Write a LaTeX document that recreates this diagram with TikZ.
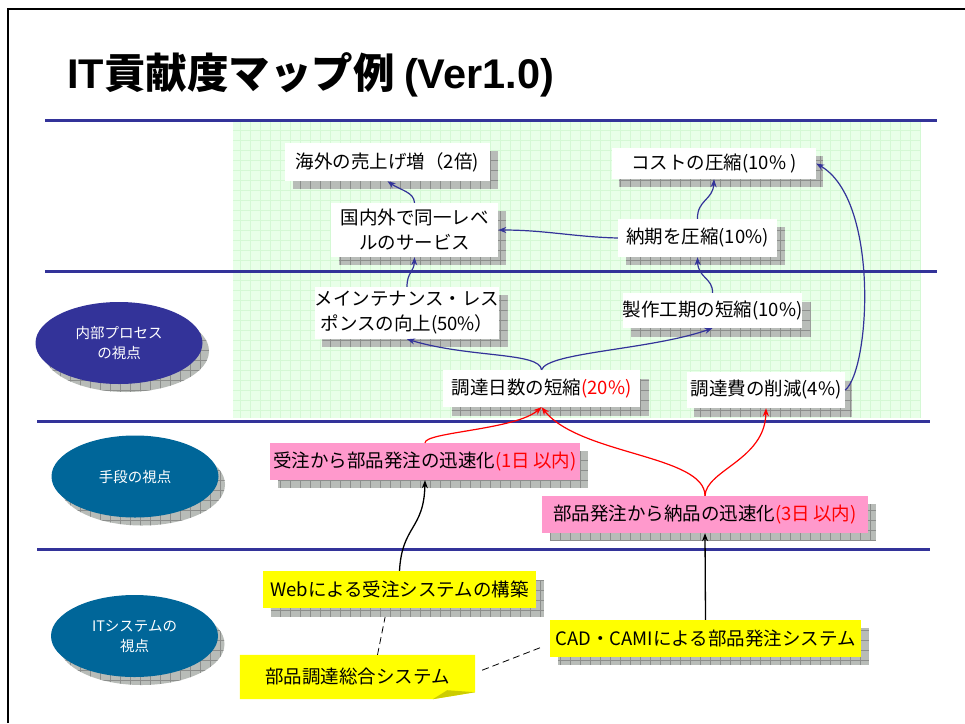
\documentclass[tikz,border=0pt]{standalone}
\usepackage{fontspec}
\setmainfont{Noto Sans CJK JP}
\newfontfamily\latfont{Liberation Sans}
\usetikzlibrary{arrows.meta,shapes.geometric,calc}
\definecolor{navycol}{RGB}{51,51,153}
\definecolor{ellcol}{RGB}{0,102,153}
\definecolor{pinkcol}{RGB}{255,153,204}
\definecolor{yelcol}{RGB}{255,255,0}
\definecolor{foldcol}{RGB}{204,204,0}
\definecolor{greenfill}{RGB}{232,255,232}
\definecolor{greenline}{RGB}{212,248,212}
\definecolor{shadowgray}{RGB}{184,188,184}
\definecolor{shadowline}{RGB}{140,142,140}
\pgfdeclarelayer{bg}\pgfdeclarelayer{lines}\pgfdeclarelayer{shad}
\pgfsetlayers{bg,lines,shad,main}
\newcommand\boxshadow[3]{%
  \begin{pgfonlayer}{shad}
    \fill[shadowgray] ([shift={(#2,#3)}]#1.south west) rectangle ([shift={(#2,#3)}]#1.north east);
    \begin{scope}
      \clip ([shift={(#2,#3)}]#1.south west) rectangle ([shift={(#2,#3)}]#1.north east);
      \draw[shadowline, line width=0.6pt] ([shift={(#2,#3)}]#1.south west) grid[step=10pt] ([shift={(#2,#3)}]#1.north east);
    \end{scope}
  \end{pgfonlayer}}
\newcommand\ellshadow[1]{%
  \begin{pgfonlayer}{shad}
    \fill[shadowgray] ([shift={(7,8)}]#1.center) ellipse [x radius=83pt, y radius=41pt];
    \begin{scope}
      \clip ([shift={(7,8)}]#1.center) ellipse [x radius=83pt, y radius=41pt];
      \draw[shadowline, line width=0.6pt] ([shift={(-90,60)}]#1.center) grid[step=10pt] ([shift={(100,-50)}]#1.center);
    \end{scope}
  \end{pgfonlayer}}
\tikzset{
  wbox/.style={fill=white, inner sep=0pt, align=center, font=\fontsize{18.5}{25}\selectfont},
  pbox/.style={wbox, fill=pinkcol},
  ybox/.style={wbox, fill=yelcol},
  vell/.style={ellipse, inner sep=0pt, text=white, align=center, minimum width=167pt, minimum height=82pt, font=\fontsize{14.5}{20}\selectfont},
  bluearr/.style={draw=navycol, line width=1.2pt, -{Stealth[length=8pt,width=6pt]}},
  redarr/.style={draw=red, line width=1.2pt, -{Stealth[length=8pt,width=6pt]}},
  blackarr/.style={draw=black, line width=1.3pt, -{Stealth[length=8pt,width=6pt]}},
  dashline/.style={draw=black, line width=0.8pt, dash pattern=on 7pt off 4pt},
  sepline/.style={draw=navycol, line width=3pt},
}
\begin{document}
\begin{tikzpicture}[x=1pt,y=-1pt]
\useasboundingbox (0,0) rectangle (965,723);
\begin{pgfonlayer}{bg}
  \fill[white] (0,0) rectangle (965,723);
  % green grid area
  \fill[greenfill] (233,418) rectangle (920,122);
  \draw[greenline, line width=0.6pt] (233,418) grid[step=10pt] (920,122);
\end{pgfonlayer}
% frame
\draw[line width=2pt] (8,723) -- (8,9) -- (965,9);
% title
\node[anchor=west, inner sep=0pt] (title) at (67,75) {\fontsize{41.5}{46}\selectfont\bfseries {\latfont IT}貢献度マップ例 {\latfont (Ver1.0)}};
% separator lines
\draw[sepline] (45,120) -- (937,120);
\draw[sepline] (45,271) -- (937,271);
\draw[sepline] (37,421) -- (930,421);
\draw[sepline] (37,549) -- (930,549);
% ellipses
\node[vell, fill=navycol] (e1) at (119,343) {内部プロセス\\の視点};
\node[vell, fill=ellcol] (e2) at (135,476.5) {手段の視点};
\node[vell, fill=ellcol] (e3) at (134.5,636) {ITシステムの\\視点};
\ellshadow{e1}\ellshadow{e2}\ellshadow{e3}
% white boxes
\node[wbox, minimum width=205pt, minimum height=38pt] (n1) at (387.5,162) {海外の売上げ増（2倍)};
\node[wbox, minimum width=167pt, minimum height=54pt] (n2) at (414.5,230) {国内外で同一レベ\\ルのサービス};
\node[wbox, minimum width=204pt, minimum height=31pt] (n3) at (714,163.5) {コストの圧縮(10\% )};
\node[wbox, minimum width=159pt, minimum height=38pt] (n4) at (697.5,238) {納期を圧縮(10\%)};
\node[wbox, minimum width=182pt, minimum height=52pt] (n5) at (407,313) {メインテナンス・レス\\ポンスの向上(50\%）};
\node[wbox, minimum width=175pt, minimum height=35pt] (n6) at (712.5,310.5) {製作工期の短縮(10\%)};
\node[wbox, minimum width=197pt, minimum height=37pt] (n7) at (541.5,388.5) {調達日数の短縮\textcolor{red}{(20\%)}};
\node[wbox, minimum width=158pt, minimum height=36pt] (n8) at (766,390) {調達費の削減(4\%)};
\boxshadow{n1}{8}{8}\boxshadow{n2}{8}{8}\boxshadow{n3}{7}{8}\boxshadow{n4}{8}{8}
\boxshadow{n5}{8}{8}\boxshadow{n6}{8}{9}\boxshadow{n7}{9}{9}\boxshadow{n8}{7}{9}
% pink boxes
\node[pbox, minimum width=310pt, minimum height=37pt] (p1) at (425,461.5) {受注から部品発注の迅速化\textcolor{red}{(1日\,以内)}};
\node[pbox, minimum width=326pt, minimum height=37pt] (p2) at (705,514.5) {部品発注から納品の迅速化\textcolor{red}{(3日\,以内)}};
\boxshadow{p1}{8}{8}\boxshadow{p2}{8}{8}
% yellow boxes
\node[ybox, minimum width=273pt, minimum height=37pt] (y1) at (399.5,589.5) {Webによる受注システムの構築};
\node[ybox, minimum width=311pt, minimum height=37pt] (y2) at (705.5,638.5) {CAD・CAMIによる部品発注システム};
\boxshadow{y1}{8}{9}\boxshadow{y2}{8}{8}
\node[wbox, fill=none, minimum width=235pt, minimum height=44pt] (y3) at (357.5,677) {部品調達総合システム};
\begin{pgfonlayer}{lines}
  \fill[yelcol] (y3.north west) -- (y3.north east) -- ($(y3.south east)+(0,-7)$) -- ($(y3.south west)+(193,0)$) -- (y3.south west) -- cycle;
  \fill[foldcol] ($(y3.south west)+(193,0)$) -- ($(y3.south east)+(-28,-9)$) -- ($(y3.south east)+(0,-7)$) -- cycle;
  % dashed links
  \draw[dashline] (y3.48) -- (y1.-124);
  \draw[dashline, shorten <=7.5pt, shorten >=10pt] (y3.2.7) -- (y2.182);
\end{pgfonlayer}
% blue connectors
\draw[bluearr] (n2.north) .. controls (414,192) and (400,190) .. (n1.south);
\draw[bluearr] (n4.west) .. controls (575,237) and (545,230) .. (n2.east);
\draw[bluearr] (n4.north) .. controls (697,200) and (713,200) .. (n3.south);
\draw[bluearr] (n8.east) .. controls (870,370) and (880,200) .. (n3.east);
\draw[bluearr] (n5.north) .. controls (407,272) and (414,272) .. (n2.south);
\draw[bluearr] (n6.north) .. controls (713,278) and (698,278) .. (n4.south);
\draw[bluearr] (n7.north) .. controls (540,352) and (470,358) .. (n5.south);
\draw[bluearr] (n7.north) .. controls (548,352) and (650,350) .. (n6.south);
% red connectors
\draw[redarr] (p1.north) .. controls (425,432) and (515,430) .. (n7.south);
\draw[redarr] (p2.north) .. controls (705,455) and (580,455) .. (n7.south);
\draw[redarr] (p2.north) .. controls (706,470) and (765,460) .. (n8.south);
% black connectors
\draw[blackarr] (y1.north) .. controls (402,525) and (424,530) .. (p1.south);
\draw[blackarr] (y2.north) -- (p2.south);
\end{tikzpicture}
\end{document}
